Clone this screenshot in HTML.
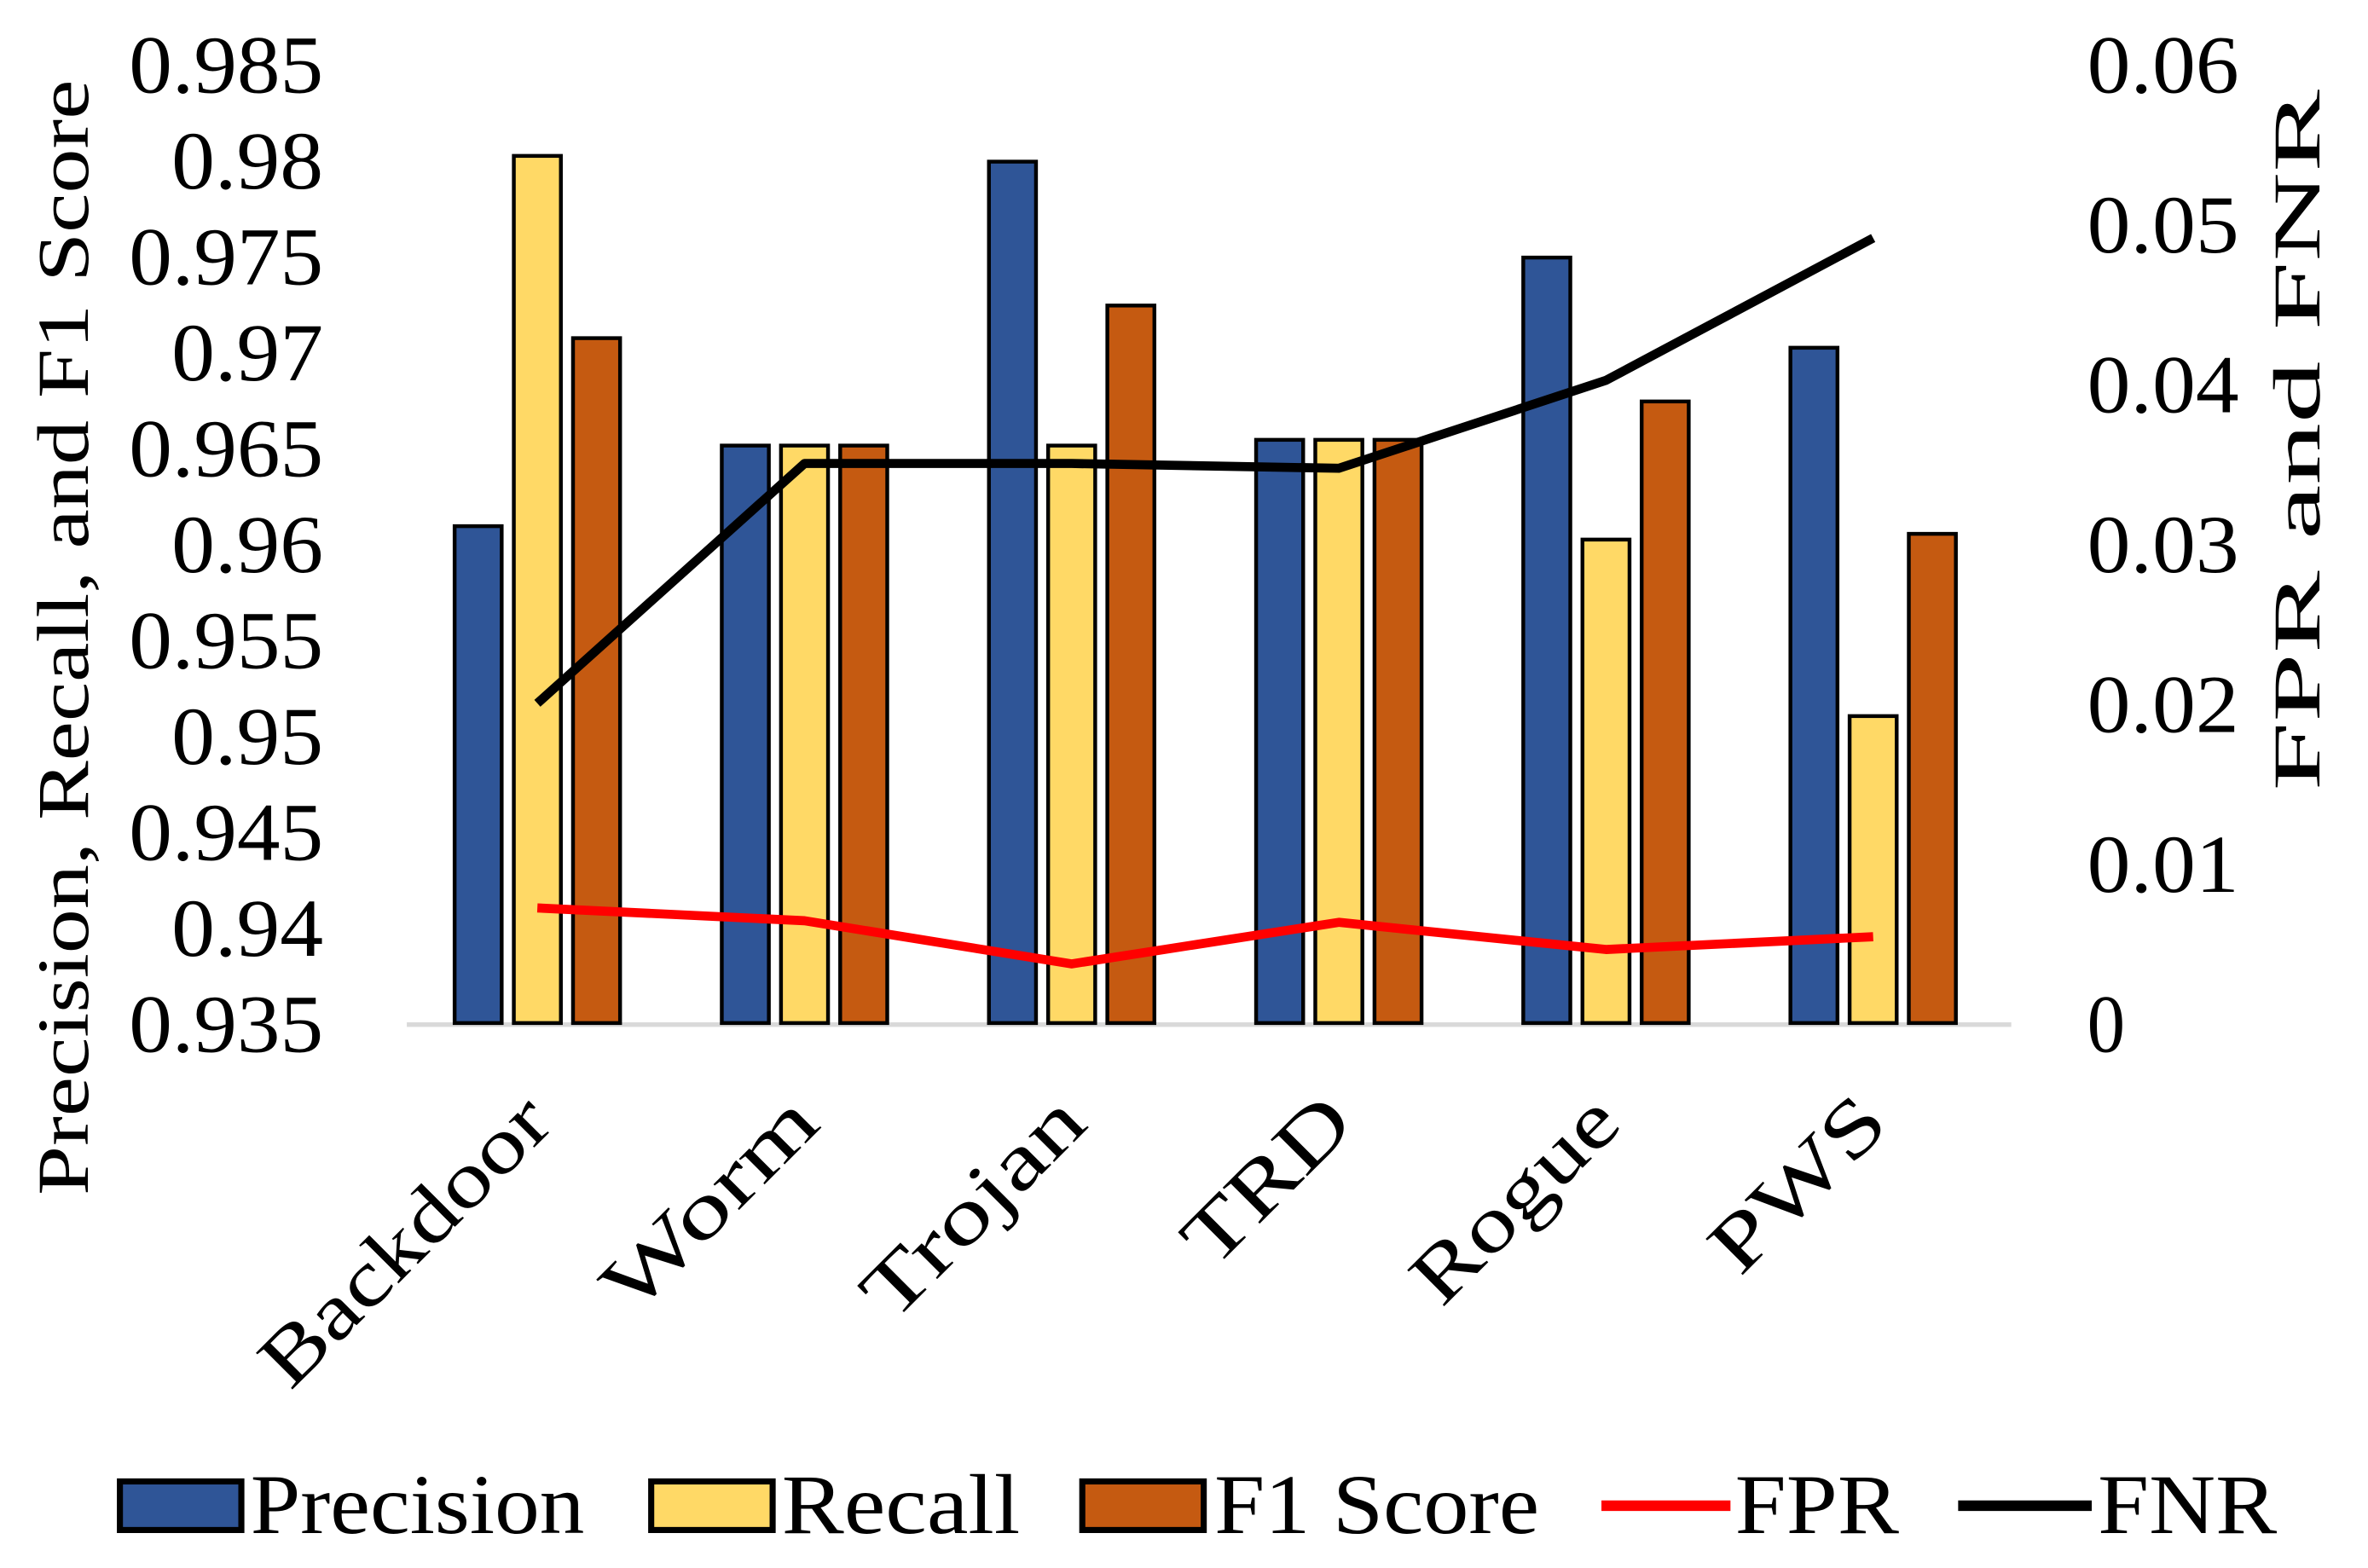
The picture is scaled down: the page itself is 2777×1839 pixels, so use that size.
<!DOCTYPE html>
<html><head><meta charset="utf-8"><style>
html,body{margin:0;padding:0;background:#fff;}
svg{display:block;}
text{font-family:"Liberation Serif",serif;fill:#000;}
</style></head><body>
<svg id="chart" width="2777" height="1839" viewBox="0 0 1560 1033" xmlns="http://www.w3.org/2000/svg">
<g id="plot"></g>
<text transform="translate(58,420) rotate(-90)" text-anchor="middle" font-size="48" textLength="735" lengthAdjust="spacingAndGlyphs">Precision, Recall, and F1 Score</text>
<text transform="translate(1528,290) rotate(-90)" text-anchor="middle" font-size="44" textLength="462" lengthAdjust="spacingAndGlyphs">FPR and FNR</text>
<g>
  <rect x="79" y="976" width="80" height="32" fill="#2F5597" stroke="#000" stroke-width="4"/>
  <text x="165" y="1010" font-size="56" textLength="220" lengthAdjust="spacingAndGlyphs">Precision</text>
  <rect x="429" y="976" width="80" height="32" fill="#FFD966" stroke="#000" stroke-width="4"/>
  <text x="515" y="1010" font-size="56" textLength="157" lengthAdjust="spacingAndGlyphs">Recall</text>
  <rect x="713" y="976" width="80" height="32" fill="#C55A11" stroke="#000" stroke-width="4"/>
  <text x="800" y="1010" font-size="56" textLength="214" lengthAdjust="spacingAndGlyphs">F1 Score</text>
  <line x1="1055" y1="992" x2="1140" y2="992" stroke="#FF0000" stroke-width="7"/>
  <text x="1143" y="1010" font-size="56" textLength="108" lengthAdjust="spacingAndGlyphs">FPR</text>
  <line x1="1290" y1="992" x2="1378" y2="992" stroke="#000" stroke-width="7"/>
  <text x="1382" y="1010" font-size="56" textLength="118" lengthAdjust="spacingAndGlyphs">FNR</text>
</g>
</svg>
<script>
const categories = ["Backdoor","Worm","Trojan","TRD","Rogue","PWS"];
const precision = [0.9609, 0.9651, 0.9799, 0.9654, 0.9749, 0.9702];
const recall = [0.9802, 0.9651, 0.9651, 0.9654, 0.9602, 0.9510];
const f1Score = [0.9707, 0.9651, 0.9724, 0.9654, 0.9674, 0.9605];
const fpr = [0.0072, 0.0064, 0.0037, 0.0063, 0.0046, 0.0054];
const fnr = [0.0200, 0.0350, 0.0350, 0.0347, 0.0402, 0.0491];
const leftTicks = ["0.935","0.94","0.945","0.95","0.955","0.96","0.965","0.97","0.975","0.98","0.985"];
const rightTicks = ["0","0.01","0.02","0.03","0.04","0.05","0.06"];
const labelLengths = [247,177,184,134,170,141];

const NS = "http://www.w3.org/2000/svg";
const plot = document.getElementById("plot");
const X0 = 266, X1 = 1322, Y0 = 674, Y1 = 42;
const LMIN = 0.935, LMAX = 0.985, RMIN = 0, RMAX = 0.06;
const band = (X1 - X0) / categories.length;
function xCenter(i){ return X0 + band*(i+0.5); }
function yLeft(v){ return Y0 - (v-LMIN)/(LMAX-LMIN)*(Y0-Y1); }
function yRight(v){ return Y0 - (v-RMIN)/(RMAX-RMIN)*(Y0-Y1); }
function mk(tag, attrs){ const e=document.createElementNS(NS,tag); for(const k in attrs) e.setAttribute(k, attrs[k]); return e; }
function tw(t){ return t.length===1 ? 25 : (t.length===4 ? 100 : 128); }

leftTicks.forEach(function(t){
  const el = mk("text",{x:213,y:yLeft(parseFloat(t))+19,"text-anchor":"end","font-size":54,textLength:tw(t),lengthAdjust:"spacingAndGlyphs"});
  
  
  el.textContent = t; plot.appendChild(el);
});
rightTicks.forEach(function(t){
  const el = mk("text",{x:1375,y:yRight(parseFloat(t))+19,"text-anchor":"start","font-size":54,textLength:tw(t),lengthAdjust:"spacingAndGlyphs"});
  
  
  el.textContent = t; plot.appendChild(el);
});
const axis = mk("line",{x1:268,y1:Y0+1,x2:1325,y2:Y0+1,stroke:"#d9d9d9","stroke-width":3});


plot.appendChild(axis);

const series = [[precision,"#2F5597","precision"],[recall,"#FFD966","recall"],[f1Score,"#C55A11","f1"]];
const bw = 31, gap = 8;
categories.forEach(function(c,i){
  series.forEach(function(s,j){
    const cx = xCenter(i) + (j-1)*(bw+gap);
    const y = yLeft(s[0][i]);
    const r = mk("rect",{x:cx-bw/2,y:y,width:bw,height:Y0-y,fill:s[1],stroke:"#000","stroke-width":2.5});
    
    
    plot.appendChild(r);
  });
  const lx = xCenter(i) + 12, ly = 742;
  const t = mk("text",{transform:"translate("+lx+","+ly+") rotate(-45)","text-anchor":"end","font-size":52,textLength:labelLengths[i],lengthAdjust:"spacingAndGlyphs"});
  
  
  t.textContent = c; plot.appendChild(t);
});

function line(vals, color, name){
  const pts = vals.map(function(v,i){ return xCenter(i)+","+yRight(v); }).join(" ");
  const p = mk("polyline",{points:pts,fill:"none",stroke:color,"stroke-width":6,"stroke-linejoin":"round"});
  
  
  plot.appendChild(p);
}
line(fpr,"#FF0000","fpr-line");
line(fnr,"#000000","fnr-line");
</script>
</body></html>
